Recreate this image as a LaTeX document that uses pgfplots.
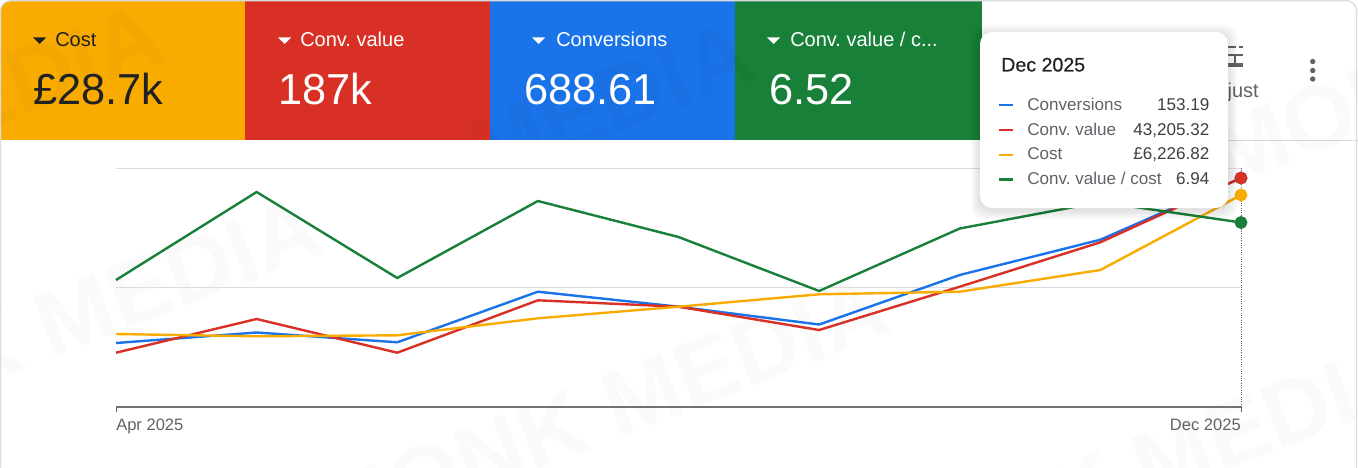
\documentclass[border=0pt]{standalone}
\usepackage{fontspec}
\setmainfont{Liberation Sans}
\newfontfamily\medfont[FakeBold=0.4]{Liberation Sans}
\usepackage{pgfplots}
\pgfplotsset{compat=1.18}
\definecolor{gyellow}{HTML}{F9AB00}
\definecolor{gred}{HTML}{D93025}
\definecolor{gblue}{HTML}{1A73E8}
\definecolor{ggreen}{HTML}{188038}
\definecolor{ink}{HTML}{202124}
\definecolor{greytext}{HTML}{5F6368}
\definecolor{valtext}{HTML}{3C4043}
\definecolor{rule}{HTML}{DADCE0}
\newcommand{\fsz}[1]{\fontsize{#1}{#1}\selectfont}
\frenchspacing
\begin{document}
\begin{tikzpicture}
\begin{scope}[x=0.75pt,y=-0.75pt]
\path[use as bounding box] (0,0) rectangle (1358,467);
\fill[white] (0,0) rectangle (1358,467);
% card
\begin{scope}
\clip[rounded corners=7.5pt] (0,1) rectangle (1357,500);
\fill[gyellow] (0,0) rectangle (245,140);
\fill[gred] (245,0) rectangle (490,140);
\fill[gblue] (490,0) rectangle (735,140);
\fill[ggreen] (735,0) rectangle (982,140);
\end{scope}
\draw[rule,line width=1pt,rounded corners=7.5pt] (0.5,0.7) rectangle (1356.5,500);
\draw[rule,line width=0.75pt] (982,140) -- (1358,140);
% watermark
\begin{scope}
\clip (0,0) rectangle (1358,467);
\tikzset{wm/.style={black,opacity=0.02,rotate=21,font=\fontsize{69}{69}\selectfont\bfseries,inner sep=0}}
\node[wm,anchor=base east] at (328,252) {MONK MEDIA};
\node[wm,anchor=base east] at (895,332) {MONK MEDIA};
\node[wm,anchor=base east] at (1426,394) {MONK MEDIA};
\node[wm,anchor=base west] at (1225,188) {MONK MEDIA};
\end{scope}
\begin{scope}
\clip (0,0) rectangle (982,140);
\tikzset{wm/.style={black,opacity=0.02,rotate=21,font=\fontsize{69}{69}\selectfont\bfseries,inner sep=0}}
\node[wm,anchor=base east] at (760,78) {MEDIA};
\node[wm,anchor=base east] at (170,60) {MEDIA};
\end{scope}
% panel labels
\fill[ink] (33,37.5) -- (46,37.5) -- (39.5,44) -- cycle;
\fill[white] (278,37.5) -- (291,37.5) -- (284.5,44) -- cycle;
\fill[white] (532,37.5) -- (545,37.5) -- (538.5,44) -- cycle;
\fill[white] (767,37.5) -- (780,37.5) -- (773.5,44) -- cycle;
\tikzset{lab/.style={anchor=base west,inner sep=0,font=\fsz{15}},val/.style={anchor=base west,inner sep=0,font=\fsz{32.5}}}
\node[lab,ink] at (55,47) {Cost};
\node[lab,white] at (300,47) {Conv. value};
\node[lab,white] at (556,47) {Conversions};
\node[lab,white] at (790,47) {Conv. value / c...};
\node[val,ink] at (33,104) {£28.7k};
\node[val,white] at (278,104) {187k};
\node[val,white] at (524,104) {688.61};
\node[val,white] at (769,104) {6.52};
% top-right controls
\fill[greytext] (1228,46) rectangle (1236,48.2);
\fill[greytext] (1239,46) rectangle (1243,48.2);
\fill[greytext] (1228,54) rectangle (1243,56.2);
\fill[greytext] (1234,54) rectangle (1236,64);
\fill[greytext] (1228,63) rectangle (1243,67.5);
\node[anchor=base east,inner sep=0,greytext,font=\fsz{15}] at (1259,97) {Adjust};
\fill[greytext] (1312.7,61.5) circle[radius=2.7];
\fill[greytext] (1312.7,70.5) circle[radius=2.7];
\fill[greytext] (1312.7,79) circle[radius=2.7];
\end{scope}
% chart
\begin{axis}[
  at={(87pt,-305.25pt)},anchor=south west,
  scale only axis,width=843.75pt,height=179.25pt,
  xmin=0,xmax=8,ymin=0,ymax=239,
  clip=false,
  axis x line=bottom,axis y line=left,
  axis line style={-},
  y axis line style={draw=none},
  x axis line style={draw=greytext!90,line width=0.9pt},
  ytick={0,119.5,239},yticklabels={},
  ytick style={draw=none},
  ymajorgrids=true,
  major grid style={rule,line width=0.75pt},
  xtick={0},xticklabels={Apr 2025},
  tick align=outside,major tick length=3.75pt,
  xtick style={draw=greytext,line width=0.6pt},
  xticklabel style={anchor=base west,inner sep=0,yshift=-14pt,text=greytext,font=\fsz{12.4}},
  extra x ticks={8},extra x tick labels={Dec 2025},
  extra x tick style={
    xticklabel style={anchor=base east},
    xmajorgrids=true,
    major grid style={densely dotted,greytext,line width=0.6pt}},
  every axis plot/.append style={line width=1.8pt,mark size=3.9pt,mark indices={9},line join=round},
]
\addplot[gblue,mark=*,mark options={fill=gblue,draw=gblue}] coordinates {(0,64)(1,74.5)(2,64.7)(3,115.3)(4,100.3)(5,82.5)(6,132)(7,167.3)(8,229)};
\addplot[gred,mark=*,mark options={fill=gred,draw=gred}] coordinates {(0,54.3)(1,88)(2,54.3)(3,106.7)(4,100.3)(5,77)(6,120.3)(7,164.7)(8,229)};
\addplot[gyellow,mark=*,mark options={fill=gyellow,draw=gyellow}] coordinates {(0,73)(1,70.7)(2,71.7)(3,88.7)(4,100.3)(5,112.7)(6,115.3)(7,137)(8,212)};
\addplot[ggreen,mark=*,mark options={fill=ggreen,draw=ggreen}] coordinates {(0,127)(1,215)(2,129)(3,206)(4,170)(5,116)(6,178.5)(7,205)(8,184.5)};
\end{axis}
% tooltip
\begin{scope}[x=0.75pt,y=-0.75pt]
\foreach \g in {9,7,5,3,1}{
  \fill[black,opacity=0.022,rounded corners=9pt] (980-\g,32-\g+2) rectangle (1228+\g,208+\g+2);
}
\fill[white,rounded corners=9pt] (980,32) rectangle (1228,208);
\node[anchor=base west,inner sep=0,ink,font=\medfont\fsz{14.7}] at (1001,71.5) {Dec 2025};
\tikzset{tl/.style={anchor=base west,inner sep=0,greytext,font=\fsz{12.8}},tv/.style={anchor=base east,inner sep=0,valtext,font=\fsz{12.8}}}
\fill[gblue] (999,104) rectangle (1013,106.4);
\fill[gred] (999,129) rectangle (1013,131.4);
\fill[gyellow] (999,153.6) rectangle (1013,156);
\fill[ggreen] (999,178.2) rectangle (1013,180.6);
\node[tl] at (1027,110.5) {Conversions};
\node[tl] at (1027,135) {Conv. value};
\node[tl] at (1027,159.6) {Cost};
\node[tl] at (1027,184.2) {Conv. value / cost};
\node[tv] at (1209.5,110.5) {153.19};
\node[tv] at (1209.5,135) {43,205.32};
\node[tv] at (1209.5,159.6) {£6,226.82};
\node[tv] at (1209.5,184.2) {6.94};
\end{scope}
\end{tikzpicture}
\end{document}
